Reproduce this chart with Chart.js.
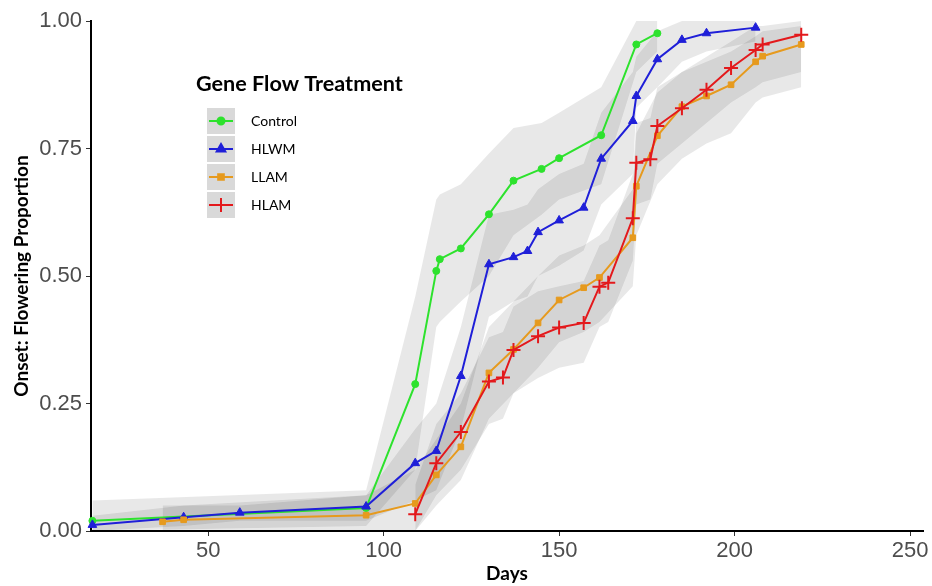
<!DOCTYPE html>
<html lang="en">
<head>
    <meta charset="UTF-8">
    <title>Onset: Flowering Proportion</title>
    <script src="https://cdn.jsdelivr.net/npm/chart.js"></script>
    <style>
        body { margin: 0; background: #fff; }
        #chart-container { width: 932px; height: 586px; }
    </style>
</head>
<body>
<div id="chart-container">
    <canvas id="onsetChart" width="932" height="586"></canvas>
</div>
<script>
    // values (days, proportion flowering)
    const controlDays = [17, 95, 109, 115, 116, 122, 130, 137, 145, 150, 162, 172, 178];
    const controlVals = [0.020, 0.045, 0.288, 0.510, 0.533, 0.554, 0.621, 0.687, 0.710, 0.731, 0.776, 0.954, 0.976];
    const controlLo   = [0.00, 0.01, 0.12, 0.40, 0.41, 0.45, 0.50, 0.58, 0.62, 0.65, 0.68, 0.90, 0.94];
    const controlHi   = [0.06, 0.08, 0.46, 0.65, 0.66, 0.68, 0.74, 0.79, 0.80, 0.82, 0.87, 1.00, 1.00];

    const hlwmDays = [17, 43, 59, 95, 109, 115, 122, 130, 137, 141, 144, 150, 157, 162, 171, 172, 178, 185, 192, 206];
    const hlwmVals = [0.012, 0.027, 0.036, 0.048, 0.133, 0.157, 0.304, 0.523, 0.537, 0.549, 0.586, 0.609, 0.634, 0.730, 0.804, 0.853, 0.925, 0.963, 0.976, 0.987];
    const hlwmLo   = [0.00, 0.01, 0.02, 0.02, 0.06, 0.08, 0.20, 0.42, 0.45, 0.46, 0.50, 0.52, 0.55, 0.64, 0.70, 0.83, 0.87, 0.92, 0.94, 0.96];
    const hlwmHi   = [0.03, 0.05, 0.05, 0.07, 0.20, 0.25, 0.40, 0.62, 0.63, 0.64, 0.67, 0.70, 0.72, 0.82, 0.90, 0.93, 0.98, 1.00, 1.00, 1.00];

    const llamDays = [37, 43, 95, 109, 115, 122, 130, 137, 144, 150, 157, 161.5, 171, 172, 178, 185, 192, 199, 206, 208, 219];
    const llamVals = [0.018, 0.022, 0.031, 0.054, 0.110, 0.165, 0.310, 0.356, 0.408, 0.453, 0.477, 0.497, 0.575, 0.676, 0.775, 0.832, 0.853, 0.875, 0.920, 0.931, 0.954];
    const llamLo   = [0.00, 0.00, 0.00, 0.00, 0.05, 0.10, 0.22, 0.27, 0.32, 0.37, 0.39, 0.41, 0.48, 0.58, 0.68, 0.73, 0.76, 0.78, 0.84, 0.85, 0.87];
    const llamHi   = [0.05, 0.05, 0.07, 0.12, 0.18, 0.25, 0.40, 0.45, 0.50, 0.54, 0.56, 0.58, 0.67, 0.78, 0.86, 0.90, 0.92, 0.94, 0.97, 0.98, 0.99];

    const hlamDays = [109, 115, 122, 130, 134, 137, 144, 150, 157, 161.5, 164, 171, 172, 176, 178, 185, 192, 199, 206, 208, 219];
    const hlamVals = [0.033, 0.133, 0.194, 0.293, 0.301, 0.355, 0.382, 0.399, 0.408, 0.479, 0.487, 0.613, 0.722, 0.729, 0.794, 0.829, 0.865, 0.908, 0.943, 0.954, 0.973];
    const hlamLo   = [0.00, 0.07, 0.12, 0.21, 0.22, 0.27, 0.30, 0.32, 0.33, 0.40, 0.41, 0.53, 0.64, 0.65, 0.72, 0.76, 0.80, 0.84, 0.87, 0.88, 0.90];
    const hlamHi   = [0.09, 0.21, 0.27, 0.38, 0.39, 0.44, 0.47, 0.48, 0.49, 0.56, 0.57, 0.70, 0.80, 0.81, 0.87, 0.90, 0.93, 0.96, 0.99, 0.99, 1.00];

    const xTicks = [50, 100, 150, 200, 250];
    const yTicks = [0, 0.25, 0.5, 0.75, 1];

    const series = [
        { name: "Control", days: controlDays, vals: controlVals, lo: controlLo, hi: controlHi, color: "#2de22d", style: "circle", radius: 3.5, order: 3 },
        { name: "HLWM",    days: hlwmDays,    vals: hlwmVals,    lo: hlwmLo,    hi: hlwmHi,    color: "#1f1fd8", style: "triangle", radius: 5, order: 2 },
        { name: "LLAM",    days: llamDays,    vals: llamVals,    lo: llamLo,    hi: llamHi,    color: "#e69a1e", style: "rect", radius: 4, order: 1 },
        { name: "HLAM",    days: hlamDays,    vals: hlamVals,    lo: hlamLo,    hi: hlamHi,    color: "#e3191c", style: "cross", radius: 7, order: 0 }
    ];

    const pts = (xs, ys) => xs.map((x, i) => ({ x, y: ys[i] }));

    const datasets = [];
    series.forEach(s => {
        // confidence ribbon: lower edge, then upper edge filled down to it
        const loIndex = datasets.length;
        datasets.push({
            label: "", data: pts(s.days, s.lo), order: 10,
            borderWidth: 0, pointRadius: 0, fill: false, tension: 0
        });
        datasets.push({
            label: "", data: pts(s.days, s.hi), order: 10,
            borderWidth: 0, pointRadius: 0, tension: 0,
            fill: { target: loIndex }, backgroundColor: "rgba(0,0,0,0.09)"
        });
    });
    series.forEach(s => {
        datasets.push({
            label: s.name, data: pts(s.days, s.vals), order: s.order,
            borderColor: s.color, backgroundColor: s.color, borderWidth: 2,
            pointStyle: s.style, pointRadius: s.radius, pointBorderWidth: s.style === "cross" ? 2 : 1,
            pointBackgroundColor: s.color, pointBorderColor: s.color,
            fill: false, tension: 0, clip: false
        });
    });

    // ggplot-style legend drawn inside the panel
    const legendPlugin = {
        id: "geneFlowLegend",
        afterDraw(chart) {
            const ctx = chart.ctx;
            ctx.save();
            ctx.fillStyle = "#000";
            ctx.textBaseline = "middle";
            ctx.font = "bold 19px Lato";
            const tw = ctx.measureText("Gene Flow Treatment").width;
            const size = 19 * 207 / tw;
            ctx.font = "bold " + size.toFixed(1) + "px Lato";
            ctx.fillText("Gene Flow Treatment", 196, 84);

            const tops = [108, 136, 164, 192];
            series.forEach((s, i) => {
                const cy = tops[i] + 13;
                ctx.fillStyle = "#d9d9d9";
                ctx.fillRect(207, tops[i], 28, 26);
                ctx.strokeStyle = s.color;
                ctx.lineWidth = 2;
                ctx.beginPath();
                ctx.moveTo(209, cy);
                ctx.lineTo(233, cy);
                ctx.stroke();
                ctx.fillStyle = s.color;
                Chart.helpers.drawPoint(ctx, {
                    pointStyle: s.style, radius: s.radius, rotation: 0,
                    borderWidth: s.style === "cross" ? 2 : 1
                }, 221, cy);
                ctx.fillStyle = "#000";
                ctx.font = "14px Lato";
                ctx.fillText(s.name, 251, cy);
            });
            ctx.restore();
        }
    };

    new Chart(document.getElementById("onsetChart"), {
        type: "line",
        data: { datasets },
        plugins: [legendPlugin],
        options: {
            responsive: false,
            animation: false,
            layout: { padding: { top: 21, right: 2, left: 0, bottom: 0 } },
            plugins: {
                legend: { display: false },
                tooltip: { enabled: false },
                filler: { drawTime: "beforeDatasetsDraw" }
            },
            scales: {
                x: {
                    type: "linear",
                    min: 16.6,
                    max: 253.7,
                    afterBuildTicks: s => { s.ticks = xTicks.map(v => ({ value: v })); },
                    afterFit: s => { s.height = 55; },
                    grid: { drawOnChartArea: false, drawTicks: true, tickLength: 5, color: "#333" },
                    border: { display: true, color: "#000", width: 2 },
                    ticks: { color: "#4d4d4d", font: { family: "Liberation Sans", size: 22 }, padding: 2, maxRotation: 0 },
                    title: { display: true, text: "Days", color: "#000", font: { family: "Lato", size: 19, weight: "bold" }, padding: { top: 0, bottom: 1 } }
                },
                y: {
                    min: 0,
                    max: 1,
                    afterBuildTicks: s => { s.ticks = yTicks.map(v => ({ value: v })); },
                    afterFit: s => { s.width = 91; },
                    grid: { drawOnChartArea: false, drawTicks: true, tickLength: 5, color: "#333" },
                    border: { display: true, color: "#000", width: 2 },
                    ticks: { color: "#4d4d4d", font: { family: "Liberation Sans", size: 22 }, padding: 4, callback: v => v.toFixed(2) },
                    title: { display: true, text: "Onset: Flowering Proportion", color: "#000", font: { family: "Lato", size: 19, weight: "bold" }, padding: { top: 10, bottom: 0 } }
                }
            }
        }
    });
</script>
</body>
</html>
